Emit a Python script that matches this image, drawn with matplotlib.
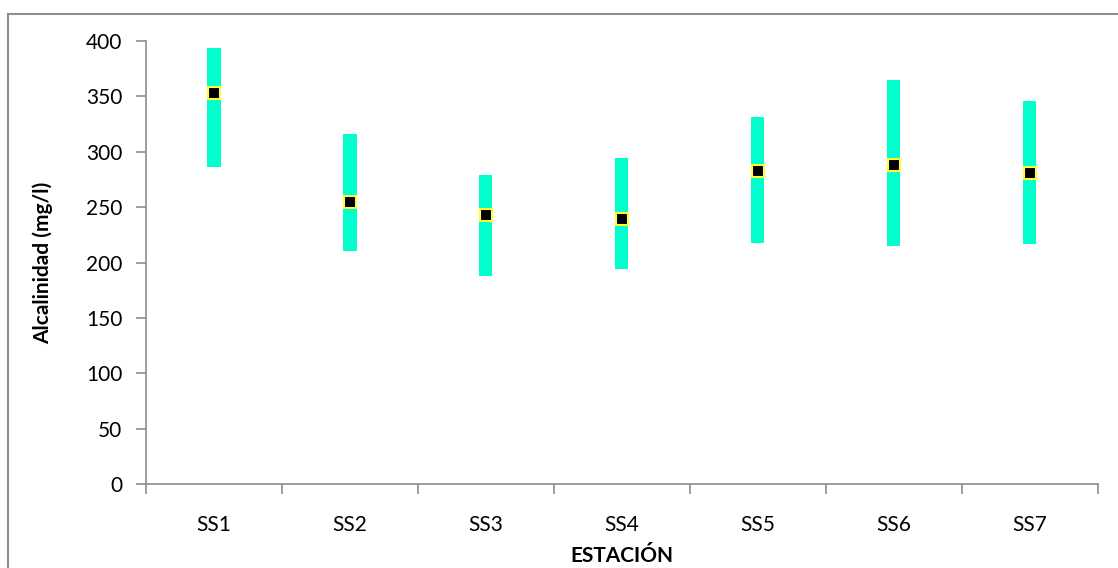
import matplotlib.pyplot as plt
from matplotlib.patches import Rectangle

estaciones = ['SS1', 'SS2', 'SS3', 'SS4', 'SS5', 'SS6', 'SS7']
maximo = [394, 316, 279, 294, 331, 365, 346]
minimo = [286, 210, 188, 194, 218, 215, 217]
promedio = [353, 255, 243, 239, 283, 288, 281]
yticks = [0, 50, 100, 150, 200, 250, 300, 350, 400]

plt.rcParams['font.family'] = ['Lato', 'DejaVu Sans']

fig = plt.figure(figsize=(11.18, 5.68), dpi=100)
ax = fig.add_axes([0.1306, 0.1479, 0.8514, 0.7799])

# outer frame around the chart area
fig.patches.append(Rectangle((8 / 1118, -0.05), 1.2, 1 - 14 / 568 + 0.05,
                             transform=fig.transFigure, fill=False,
                             edgecolor='#8c8c8c', linewidth=1.5))

x = range(1, len(estaciones) + 1)
alturas = [hi - lo for hi, lo in zip(maximo, minimo)]
ax.bar(x, alturas, bottom=minimo, width=0.096, color='#00ffcc', zorder=2)
ax.plot(x, promedio, linestyle='none', marker='s', markersize=9,
        markerfacecolor='black', markeredgecolor='#ffff33',
        markeredgewidth=1.5, zorder=3)

ax.set_xlim(0.5, len(estaciones) + 0.5)
ax.set_ylim(0, 400)
ax.set_yticks(yticks)
ax.set_xticks(list(x))
ax.set_xticklabels(estaciones)
ax.set_xticks([i + 0.5 for i in range(len(estaciones) + 1)], minor=True)
ax.tick_params(axis='x', which='major', length=0, pad=22, labelsize=15)
ax.tick_params(axis='x', which='minor', length=7, width=1.2, color='#8c8c8c',
               direction='out')
ax.tick_params(axis='y', length=7, width=1.2, color='#8c8c8c', pad=10,
               labelsize=15)

for side in ('top', 'right'):
    ax.spines[side].set_visible(False)
for side in ('left', 'bottom'):
    ax.spines[side].set_color('#8c8c8c')
    ax.spines[side].set_linewidth(1.2)

ax.set_ylabel('Alcalinidad (mg/l)', fontsize=15, fontweight='bold',
              labelpad=24)
ax.set_xlabel('ESTACIÓN', fontsize=15, fontweight='bold', labelpad=8)

fig.savefig('out.png', dpi=100)
